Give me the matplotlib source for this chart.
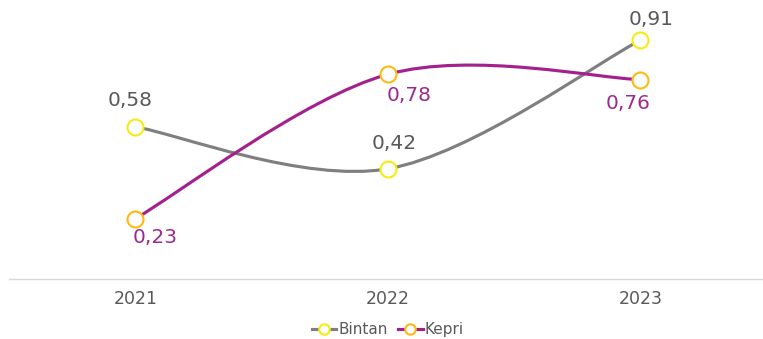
import matplotlib
matplotlib.use("Agg")
import matplotlib.pyplot as plt
from matplotlib.path import Path
from matplotlib.patches import PathPatch
from matplotlib.lines import Line2D

years = ["2021", "2022", "2023"]
bintan = [0.58, 0.42, 0.91]
kepri = [0.23, 0.78, 0.76]

plt.rcParams["font.family"] = ["DejaVu Sans"]

GREY = "#7f7f7f"
PURPLE = "#a3208f"
GREY_TXT = "#595959"
PURPLE_TXT = "#9c2a8f"
YELLOW = "#f7ec0f"
GOLD = "#ffb914"


def smooth_path(xs, ys):
    """Cubic Bezier through the points, Catmull-Rom style tangents."""
    pts = list(zip(xs, ys))
    n = len(pts)
    verts = [pts[0]]
    codes = [Path.MOVETO]
    for i in range(n - 1):
        p0 = pts[i - 1] if i > 0 else pts[i]
        p1 = pts[i]
        p2 = pts[i + 1]
        p3 = pts[i + 2] if i + 2 < n else pts[i + 1]
        c1 = (p1[0] + (p2[0] - p0[0]) / 6, p1[1] + (p2[1] - p0[1]) / 6)
        c2 = (p2[0] - (p3[0] - p1[0]) / 6, p2[1] - (p3[1] - p1[1]) / 6)
        verts += [c1, c2, p2]
        codes += [Path.CURVE4] * 3
    return Path(verts, codes)


fig = plt.figure(figsize=(7.63, 3.39), dpi=100)
ax = fig.add_axes([0.0118, 0.177, 0.993, 0.774])
x = list(range(len(years)))

for vals, col in ((bintan, GREY), (kepri, PURPLE)):
    ax.add_patch(PathPatch(smooth_path(x, vals), facecolor="none",
                           edgecolor=col, lw=2.25, capstyle="round",
                           zorder=2, clip_on=False))

ax.plot(x, bintan, ls="none", marker="o", ms=11.5, mfc="white",
        mec=YELLOW, mew=1.5, zorder=3, clip_on=False)
ax.plot(x, kepri, ls="none", marker="o", ms=11.5, mfc="white",
        mec=GOLD, mew=1.5, zorder=3, clip_on=False)

fmt = lambda v: f"{v:.2f}".replace(".", ",")

b_off = [(-5, 21), (6, 20), (11, 15)]
for xi, v, off in zip(x, bintan, b_off):
    ax.annotate(fmt(v), (xi, v), xytext=off, textcoords="offset pixels",
                ha="center", va="baseline", fontsize=14.5, color=GREY_TXT)

k_off = [(20, -9), (21, -12), (-12, -14)]
for xi, v, off in zip(x, kepri, k_off):
    ax.annotate(fmt(v), (xi, v), xytext=off, textcoords="offset pixels",
                ha="center", va="top", fontsize=14.5, color=PURPLE_TXT)

ax.set_xlim(-0.5, 2.5)
ax.set_ylim(0, 1.0)
ax.set_xticks(x)
ax.set_xticklabels(years, fontsize=12.5, color=GREY_TXT)
ax.set_yticks([])
ax.tick_params(axis="x", length=0, pad=8)
for s in ("top", "right", "left"):
    ax.spines[s].set_visible(False)
ax.spines["bottom"].set_color("#d9d9d9")
ax.spines["bottom"].set_linewidth(1)

handles = [
    Line2D([], [], color=GREY, lw=2.25, marker="o", ms=7.5, mfc="white",
           mec=YELLOW, mew=1.5),
    Line2D([], [], color=PURPLE, lw=2.25, marker="o", ms=7.5, mfc="white",
           mec=GOLD, mew=1.5),
]
fig.legend(handles, ["Bintan", "Kepri"], loc="center", ncol=2,
           bbox_to_anchor=(0.508, 0.027), frameon=False, fontsize=11,
           handlelength=1.6, handletextpad=0.1, columnspacing=0.7,
           labelcolor=GREY_TXT, borderpad=0)

fig.savefig("out.png", dpi=100)
